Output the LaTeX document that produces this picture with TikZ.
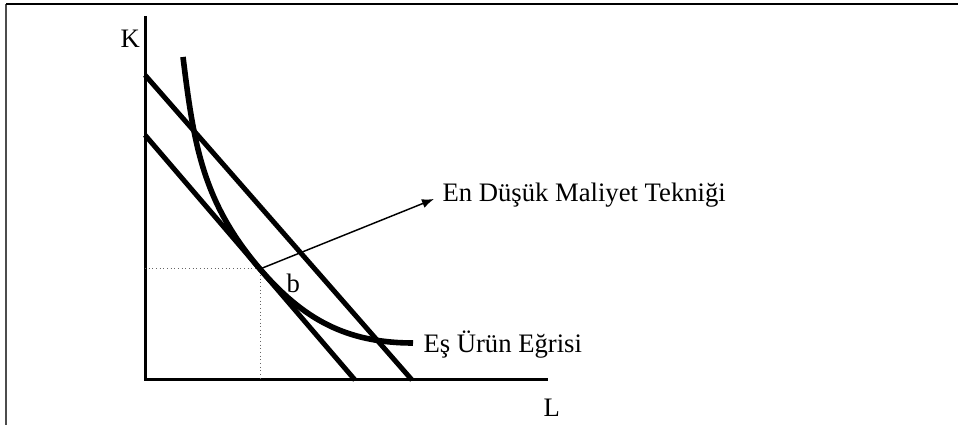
\documentclass[tikz,border=0pt]{standalone}
\usepackage{fontspec}
\setmainfont{Liberation Serif}
\usetikzlibrary{arrows.meta}
\begin{document}
\begin{tikzpicture}[x=0.75pt, y=0.75pt, line width=3.75pt,
  lbl/.style={font=\fontsize{20}{24}\selectfont, inner sep=0pt, anchor=base west}]
  \useasboundingbox (0,0) rectangle (958,425);
  % frame
  \coordinate (F0) at (6,0); \coordinate (F1) at (6,421); \coordinate (F2) at (958,421);
  \draw[line width=1.5pt, black!70] (F0) -- (F1);
  \draw[line width=1.5pt] (F1) -- (F2);
  % axes
  \coordinate (O) at (145,45); \coordinate (Ktop) at (145,409); \coordinate (Lend) at (548,45);
  \draw[line width=2.25pt, line join=miter] (Ktop) -- (O) -- (Lend);
  \node[lbl] (K) at (118,377) {K};
  \node[lbl] (L) at (541,8) {L};
  % isocost lines
  \coordinate (A1) at (145,350); \coordinate (B1) at (412,45);
  \coordinate (A2) at (145,290); \coordinate (B2) at (355,45);
  \draw (A1) -- (B1);
  \draw (A2) -- (B2);
  % tangency
  \coordinate (T) at (260,156);
  \draw[line width=0.75pt, dotted, black!60] (O |- T) -- (T) -- (T |- O);
  % isoquant
  \coordinate (I0) at (183,368); \coordinate (I1) at (413,82);
  \draw[line width=4.2pt] (I0) to[out=-83, in=130.6] (T) to[out=-49.4, in=180] (I1);
  \node[lbl] (b) at (284,132) {b};
  \node[lbl] (esurun) at (421,72) {Eş Ürün Eğrisi};
  % arrow
  \coordinate (Tip) at (434,226);
  \draw[line width=1.1pt, -{Latex[length=9pt, width=7pt]}] (T) -- (Tip);
  \node[lbl] (teknik) at (440,223) {En Düşük Maliyet Tekniği};
\end{tikzpicture}
\end{document}
